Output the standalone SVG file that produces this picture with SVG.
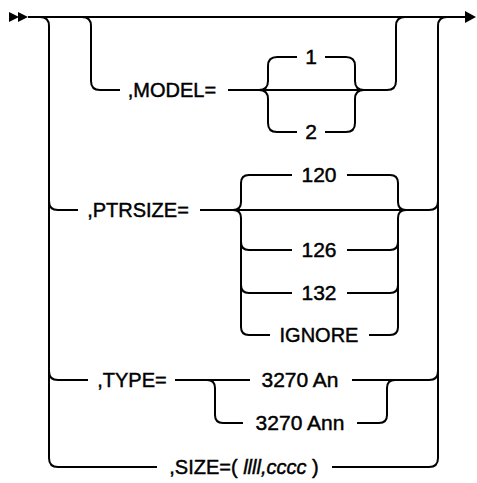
<svg xmlns="http://www.w3.org/2000/svg" width="477" height="483" viewBox="0 0 477 483">
<style>
.l{fill:none;stroke:#000;stroke-width:2}
.t{font-family:"Liberation Sans",Arial,sans-serif;font-size:20px;fill:#000;stroke:#000;stroke-width:0.45;text-anchor:middle}
.n{font-size:21px}
</style>
<rect width="477" height="483" fill="#fff"/>
<g id="connectors">
<polygon points="9,12 19,17 9,22" fill="#000"/>
<polygon points="18,12 28,17 18,22" fill="#000"/>
<polygon points="465,11 476,17 465,23" fill="#000"/>
<path class="l" d="M28,17 H466"/>
<path class="l" d="M40,17 Q49,17 49,26 V458 Q49,467 58,467 H157"/>
<path class="l" d="M49,201 Q49,210 58,210 H78"/>
<path class="l" d="M49,371 Q49,380 58,380 H88"/>
<path class="l" d="M332,467 H429 Q438,467 438,458 V26 Q438,17 447,17"/>
<path class="l" d="M429,210 Q438,210 438,201"/>
<path class="l" d="M429,380 Q438,380 438,371"/>
<path class="l" d="M82,17 Q91,17 91,26 V81 Q91,90 100,90 H120"/>
<path class="l" d="M228,90 H387 Q396,90 396,81 V26 Q396,17 405,17"/>
<path class="l" d="M259,90 Q268,90 268,81 V66 Q268,57 277,57 H297"/>
<path class="l" d="M325,57 H346 Q355,57 355,66 V81 Q355,90 364,90"/>
<path class="l" d="M259,90 Q268,90 268,99 V123 Q268,132 277,132 H297"/>
<path class="l" d="M325,132 H346 Q355,132 355,123 V99 Q355,90 364,90"/>
<path class="l" d="M200,210 H429"/>
<path class="l" d="M233,210 Q241,210 241,202 V183 Q241,175 249,175 H292"/>
<path class="l" d="M347,175 H390 Q398,175 398,183 V202 Q398,210 406,210"/>
<path class="l" d="M233,210 Q241,210 241,218 V327 Q241,335 249,335 H270"/>
<path class="l" d="M241,242 Q241,250 249,250 H292"/>
<path class="l" d="M241,285 Q241,293 249,293 H292"/>
<path class="l" d="M369,335 H390 Q398,335 398,327 V218 Q398,210 406,210"/>
<path class="l" d="M347,250 H390 Q398,250 398,242"/>
<path class="l" d="M347,293 H390 Q398,293 398,285"/>
<path class="l" d="M175,380 H250"/>
<path class="l" d="M352,380 H429"/>
<path class="l" d="M207,380 Q215,380 215,388 V415 Q215,423 223,423 H243"/>
<path class="l" d="M357,423 H379 Q387,423 387,415 V388 Q387,380 395,380"/>
</g>
<g id="model"><text class="t" x="172" y="97">,MODEL=</text></g>
<g id="model-1"><text class="t n" x="311" y="64">1</text></g>
<g id="model-2"><text class="t n" x="311" y="139">2</text></g>
<g id="ptrsize"><text class="t" x="138" y="217">,PTRSIZE=</text></g>
<g id="ptr-120"><text class="t n" x="319" y="182">120</text></g>
<g id="ptr-126"><text class="t n" x="319" y="257">126</text></g>
<g id="ptr-132"><text class="t n" x="319" y="300">132</text></g>
<g id="ptr-ignore"><text class="t" x="319" y="342">IGNORE</text></g>
<g id="type"><text class="t" x="132" y="387">,TYPE=</text></g>
<g id="type-an"><text class="t n" x="300" y="387">3270 An</text></g>
<g id="type-ann"><text class="t n" x="300" y="430">3270 Ann</text></g>
<g id="size"><text class="t" x="244" y="474" xml:space="preserve">,SIZE=( <tspan font-style="italic">llll,cccc</tspan> )</text></g>
</svg>
